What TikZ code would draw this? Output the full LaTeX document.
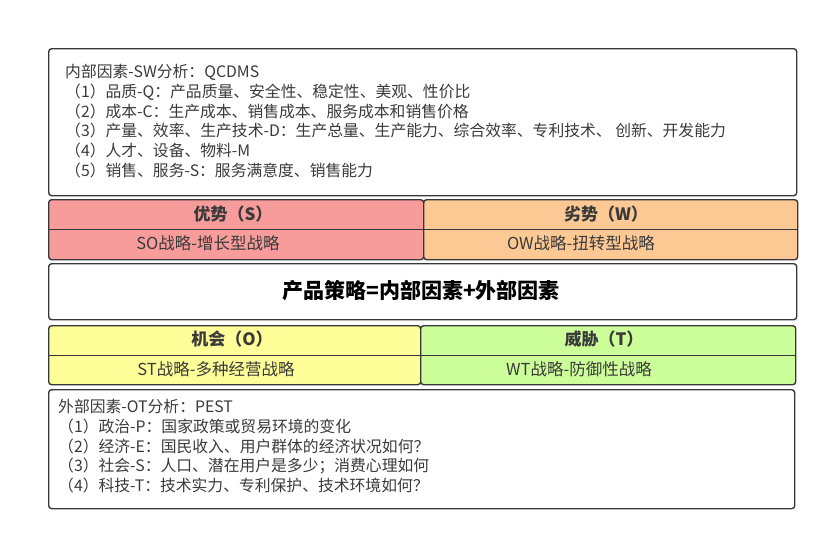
\documentclass[tikz,border=0pt]{standalone}
\usepackage{fontspec}
\setmainfont{Noto Sans CJK SC}
\usepackage{tikz}
\usetikzlibrary{positioning}

\definecolor{edgegray}{HTML}{383838}
\definecolor{textgray}{HTML}{3A3A3A}
\definecolor{sred}{HTML}{F79B9B}
\definecolor{worange}{HTML}{FCC995}
\definecolor{oyellow}{HTML}{FFFF99}
\definecolor{tgreen}{HTML}{CCFF99}

\begin{document}
\begin{tikzpicture}[
  x=1pt, y=-1pt,
  panel/.style={draw=edgegray, line width=1.4pt, rounded corners=3pt, inner sep=0pt, anchor=north west},
  divider/.style={draw=edgegray, line width=1.4pt},
  listtext/.style={anchor=north west, align=left, inner sep=0pt, text=textgray, font=\fontsize{15.8}{19.8}\selectfont},
  head/.style={text=textgray, font=\fontsize{17}{19}\selectfont\bfseries},
  sub/.style={text=textgray, font=\fontsize{16.5}{18}\selectfont}
]
  \useasboundingbox (0,0) rectangle (832,539);

  % internal factors
  \node[panel, minimum width=748pt, minimum height=147pt] (inner) at (48,48) {};
  \node[listtext] (innertxt) at (65,64) {内部因素-SW分析：QCDMS\\
    （1）品质-Q：产品质量、安全性、稳定性、美观、性价比\\
    （2）成本-C：生产成本、销售成本、服务成本和销售价格\\
    （3）产量、效率、生产技术-D：生产总量、生产能力、综合效率、专利技术、 创新、开发能力\\
    （4）人才、设备、物料-M\\
    （5）销售、服务-S：服务满意度、销售能力};

  % strengths / weaknesses
  \node[panel, fill=sred, minimum width=375pt, minimum height=60pt] (sbox) at (48,199) {};
  \node[panel, fill=worange, minimum width=374pt, minimum height=60pt] (wbox) at (423,199) {};
  \draw[divider] (sbox.west) -- (sbox.east);
  \draw[divider] (wbox.west) -- (wbox.east);
  \node[head] (shead) at (233,214) {优势（S）};
  \node[sub]  (ssub)  at (208,243) {SO战略-增长型战略};
  \node[head] (whead) at (606,214) {劣势（W）};
  \node[sub]  (wsub)  at (581,243) {OW战略-扭转型战略};

  % formula
  \node[panel, minimum width=748pt, minimum height=56pt] (formula) at (48,263) {};
  \node[text=black, font=\fontsize{21}{23}\selectfont\bfseries] (formulatxt) at (421,291) {产品策略=内部因素+外部因素};

  % opportunities / threats
  \node[panel, fill=oyellow, minimum width=372pt, minimum height=59pt] (obox) at (48,325) {};
  \node[panel, fill=tgreen, minimum width=375pt, minimum height=59pt] (tbox) at (420,325) {};
  \draw[divider] (obox.west) -- (obox.east);
  \draw[divider] (tbox.west) -- (tbox.east);
  \node[head] (ohead) at (232,339) {机会（O）};
  \node[sub]  (osub)  at (216,369) {ST战略-多种经营战略};
  \node[head] (thead) at (604,339) {威胁（T）};
  \node[sub]  (tsub)  at (579,369) {WT战略-防御性战略};

  % external factors
  \node[panel, minimum width=746pt, minimum height=119pt] (outer) at (48,389) {};
  \node[listtext] (outertxt) at (58,399) {外部因素-OT分析：PEST\\
    （1）政治-P：国家政策或贸易环境的变化\\
    （2）经济-E：国民收入、用户群体的经济状况如何？\\
    （3）社会-S：人口、潜在用户是多少；消费心理如何\\
    （4）科技-T：技术实力、专利保护、技术环境如何？};
\end{tikzpicture}
\end{document}
